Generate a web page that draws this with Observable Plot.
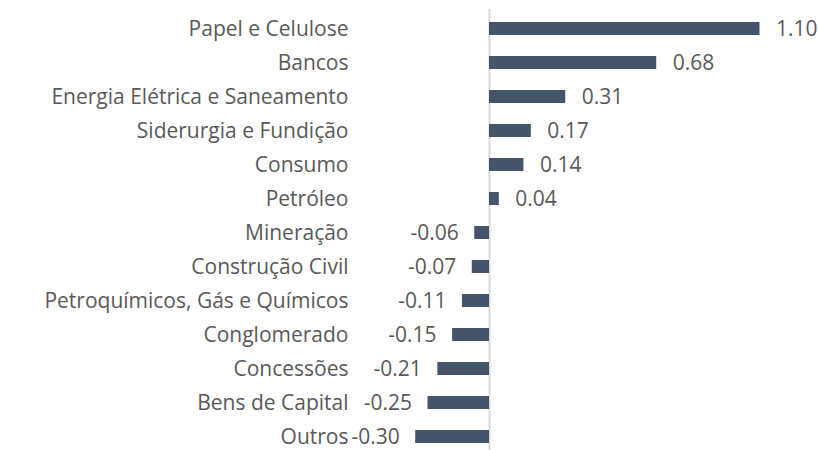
<!DOCTYPE html>
<html>
<head>
<meta charset="utf-8">
<script src="https://cdn.jsdelivr.net/npm/d3@7"></script>
<script src="https://cdn.jsdelivr.net/npm/@observablehq/plot@0.6"></script>
<style>
  html, body { margin: 0; padding: 0; background: #fff; }
  #chart svg { display: block; }
</style>
</head>
<body>
<div id="chart"></div>
<script>
const categories = [
  "Papel e Celulose",
  "Bancos",
  "Energia Elétrica e Saneamento",
  "Siderurgia e Fundição",
  "Consumo",
  "Petróleo",
  "Mineração",
  "Construção Civil",
  "Petroquímicos, Gás e Químicos",
  "Conglomerado",
  "Concessões",
  "Bens de Capital",
  "Outros"
];
const values = [1.10, 0.68, 0.31, 0.17, 0.14, 0.04, -0.06, -0.07, -0.11, -0.15, -0.21, -0.25, -0.30];

const data = categories.map((c, i) => ({category: c, value: values[i]}));
const font = "'Open Sans', sans-serif";
const textColor = "#595959";
const fs = 21;

const chart = Plot.plot({
  width: 818,
  height: 450,
  marginTop: 9,
  marginBottom: 0,
  marginLeft: 351,
  marginRight: 0,
  style: {fontFamily: font, fontSize: fs + "px", color: textColor, background: "#fff"},
  x: {domain: [0, 1.1], range: [489, 759.5], axis: null},
  y: {domain: categories, range: [9.3, 455.5], paddingInner: 0.62, paddingOuter: 0.31, label: null},
  marks: [
    Plot.ruleX([0], {stroke: "#d9d9d9", strokeWidth: 2}),
    Plot.barX(data, {x: "value", y: "category", fill: "#44546A"}),
    Plot.text(data.filter(d => d.value >= 0), {
      x: "value", y: "category", text: d => d.value.toFixed(2),
      textAnchor: "start", dx: 16, fill: textColor, fontSize: fs
    }),
    Plot.text(data.filter(d => d.value < 0), {
      x: "value", y: "category", text: d => d.value.toFixed(2),
      textAnchor: "end", dx: -16, fill: textColor, fontSize: fs
    }),
    Plot.axisY({tickSize: 0, tickPadding: 3, fontSize: fs, color: textColor, label: null})
  ]
});
document.getElementById("chart").append(chart);
</script>
</body>
</html>
